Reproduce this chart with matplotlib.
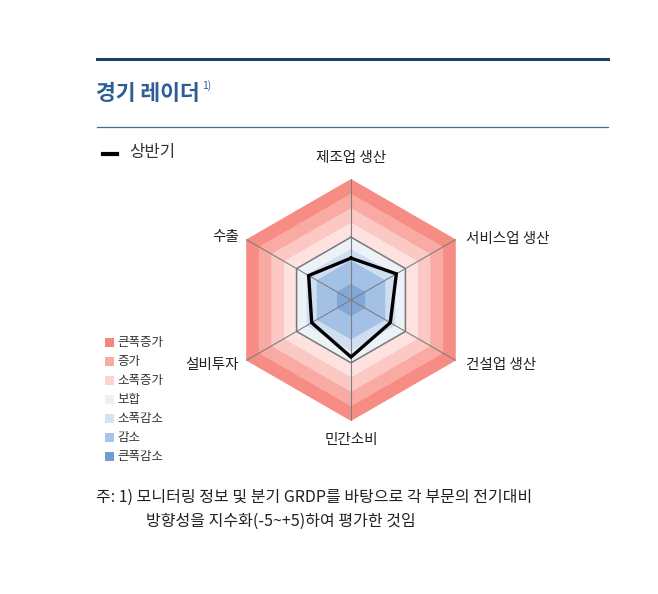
import numpy as np
import matplotlib
matplotlib.use("Agg")
import matplotlib.pyplot as plt
from matplotlib.lines import Line2D
from matplotlib.patches import Rectangle

plt.rcParams['font.family'] = ['Noto Sans CJK KR', 'DejaVu Sans']

# 데이터
categories = ['제조업 생산', '서비스업 생산', '건설업 생산', '민간소비', '설비투자', '수출']
values = [-1.8, -0.9, -1.5, -0.5, -1.5, -1.2]   # 상반기
series_name = '상반기'

# 배경 띠 (바깥 -> 안쪽)
band_edges = [5, 3.75, 2.5, 1.25, 0, -1, -2, -4]
band_colors = ['#F78C84', '#F9AAA3', '#FBC8C3', '#FDE2DF',
               '#EDF1F8', '#CFDEF1', '#A3C0E5', '#82A8D9']
r_min, r_max = -5.4, 5

legend_labels = ['큰폭증가', '증가', '소폭증가', '보합', '소폭감소', '감소', '큰폭감소']
legend_colors = ['#F4867D', '#F7ACA5', '#FBD4D0', '#EEF0F5', '#D6E3F3', '#A7C3E6', '#6F9CD1']

W, H = 658, 594
fig = plt.figure(figsize=(W / 100, H / 100), dpi=100)


def fx(x):
    return x / W


def fy(y):
    return 1 - y / H


# 상단 선과 제목
fig.add_artist(Line2D([fx(97), fx(608)], [fy(59), fy(59)], color='#1F3E70', lw=2.2))
fig.add_artist(Line2D([fx(97), fx(608)], [fy(127), fy(127)], color='#4A6A9C', lw=0.9))
fig.text(fx(96), fy(93), '경기 레이더', fontsize=15.5, color='#2F5D95',
         fontweight='bold', va='center', ha='left')
fig.text(fx(202), fy(86), '1)', fontsize=7.5, color='#2F5D95', va='center', ha='left')

# 레이더
cx, cy, R = 351, 300, 121
ax = fig.add_axes([fx(cx - R), fy(cy + R), 2 * R / W, 2 * R / H], projection='polar')
ax.set_theta_offset(np.pi / 2)
ax.set_theta_direction(-1)
ax.set_ylim(r_min, r_max)

n = len(categories)
theta = np.linspace(0, 2 * np.pi, n, endpoint=False)
theta_c = np.append(theta, theta[0])

for edge, col in zip(band_edges, band_colors):
    ax.fill(theta_c, [edge] * (n + 1), color=col, lw=0, zorder=1)

for t in theta:
    ax.plot([t, t], [r_min, r_max], color='#7F7F7F', lw=0.8, zorder=2)
ax.plot(theta_c, [0] * (n + 1), color='#787878', lw=1.1, zorder=2)

vals_c = values + values[:1]
ax.plot(theta_c, vals_c, color='black', lw=2.4, zorder=3, solid_joinstyle='miter')

offsets = [(0, 21, 'center', 'center'), (10, 1, 'left', 'center'),
           (10, -4, 'left', 'center'), (0, -19, 'center', 'center'),
           (-7, -4, 'right', 'center'), (-7, 3, 'right', 'center')]
for t, lab, (dx, dy, ha, va) in zip(theta, categories, offsets):
    ax.annotate(lab, xy=(t, r_max), xytext=(dx, dy), textcoords='offset pixels',
                ha=ha, va=va, fontsize=10.5, color='#222222', annotation_clip=False)

ax.set_xticks([])
ax.set_yticks([])
ax.grid(False)
ax.spines['polar'].set_visible(False)
ax.patch.set_alpha(0)

# 범례 (상반기)
fig.add_artist(Line2D([fx(103), fx(117)], [fy(154), fy(154)], color='black', lw=3))
fig.text(fx(129), fy(153), series_name, fontsize=12, color='#333333', va='center')

# 색상 범례
for i, (lab, col) in enumerate(zip(legend_labels, legend_colors)):
    y = 342.5 + i * 19
    fig.add_artist(Rectangle((fx(105), fy(y + 4.5)), 9 / W, 9 / H,
                             facecolor=col, edgecolor='none', transform=fig.transFigure))
    fig.text(fx(117), fy(y), lab, fontsize=9, color='#333333', va='center')

# 주석
fig.text(fx(96), fy(497), '주: 1) 모니터링 정보 및 분기 GRDP를 바탕으로 각 부문의 전기대비',
         fontsize=11.5, color='#222222', va='center')
fig.text(fx(146), fy(521), '방향성을 지수화(-5~+5)하여 평가한 것임',
         fontsize=11.5, color='#222222', va='center')

fig.savefig('out.png', dpi=100)
